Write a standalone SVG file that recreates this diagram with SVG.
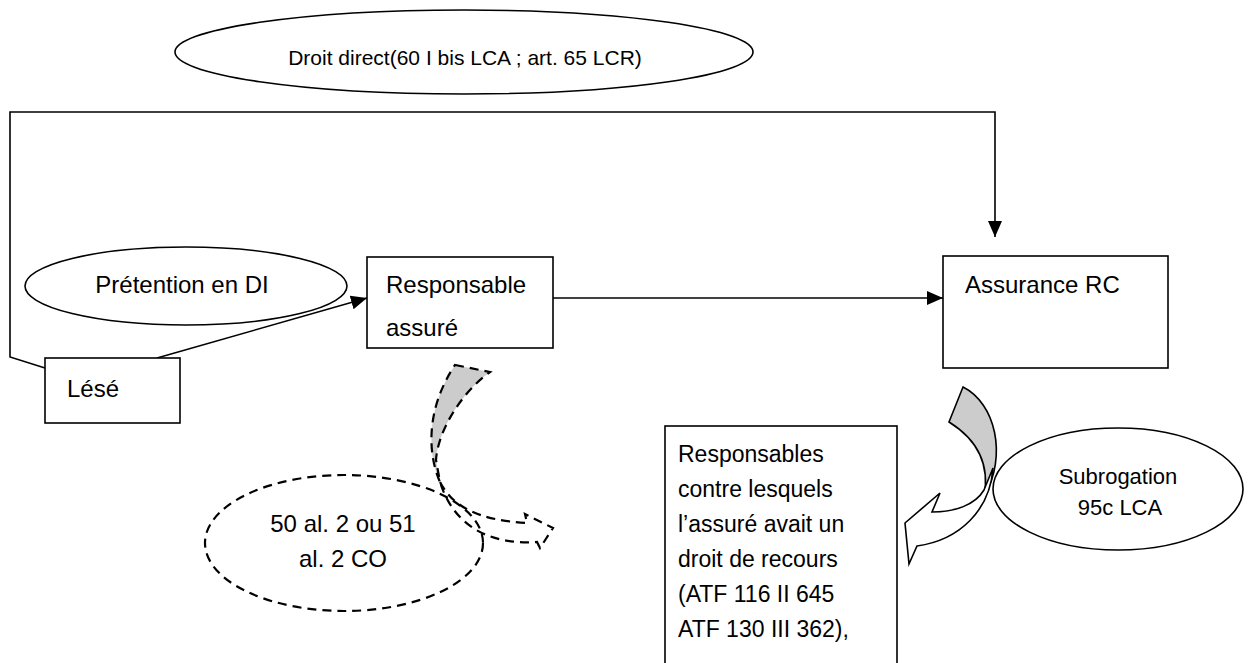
<svg xmlns="http://www.w3.org/2000/svg" width="1248" height="663" viewBox="0 0 1248 663">
  <style>
    .shape { fill: #ffffff; stroke: #000000; stroke-width: 1.6; }
    .line { fill: none; stroke: #000000; stroke-width: 1.6; }
    .dash { stroke-dasharray: 9 6; stroke-width: 2.2; }
    .back { fill: #cccccc; }
    text { font-family: "Liberation Sans", Arial, sans-serif; font-size: 24px; fill: #000000; }
    .mid { text-anchor: middle; }
    .small { font-size: 22px; }
    .body { font-size: 23px; }
  </style>
  <defs>
    <marker id="arrow" markerUnits="userSpaceOnUse" markerWidth="16" markerHeight="16" viewBox="0 0 16 16" refX="16" refY="8" orient="auto">
      <path d="M0 1 L16 8 L0 15 Z" fill="#000000"/>
    </marker>
  </defs>

  <!-- connectors -->
  <g id="connectors">
    <polyline class="line" points="45,368 10,357 10,112 995,112 995,237" marker-end="url(#arrow)"/>
    <line class="line" x1="157" y1="358" x2="367" y2="298" marker-end="url(#arrow)"/>
    <line class="line" x1="553" y1="298" x2="943" y2="298" marker-end="url(#arrow)"/>
  </g>

  <g id="droit-direct">
    <ellipse class="shape" cx="464" cy="52" rx="289" ry="42"/>
    <text x="465" y="65" class="mid" style="font-size:21px">Droit direct(60 I bis LCA ; art. 65 LCR)</text>
  </g>

  <g id="pretention">
    <ellipse class="shape" cx="186" cy="286" rx="161" ry="39"/>
    <text x="182" y="293" class="mid">Prétention en DI</text>
  </g>

  <g id="lese">
    <rect class="shape" x="45" y="358" width="135" height="65"/>
    <text x="67" y="397">Lésé</text>
  </g>

  <g id="responsable">
    <rect class="shape" x="367" y="257" width="186" height="91"/>
    <text x="386" y="293">Responsable</text>
    <text x="386" y="336">assuré</text>
  </g>

  <g id="assurance">
    <rect class="shape" x="943" y="256" width="225" height="112"/>
    <text x="965" y="293">Assurance RC</text>
  </g>

  <!-- dashed curved arrow under the insured -->
  <g id="recours-arrow">
    <path class="shape dash back" d="M455 365 L490 372 C462 392 438 430 436 460 L440 482 C428 455 425 410 455 365 Z"/>
    <path class="shape dash" d="M440 482 C452 505 475 520 527 523 L525 514 L553 528 L540 548 L537 542 C495 545 455 530 440 482 Z"/>
  </g>

  <g id="art-co">
    <ellipse class="line dash" cx="344" cy="543" rx="139" ry="68"/>
    <text x="343" y="532" class="mid">50 al. 2 ou 51</text>
    <text x="343" y="567" class="mid">al. 2 CO</text>
  </g>

  <!-- solid curved arrow under the insurer -->
  <g id="subrogation-arrow">
    <path class="shape back" d="M949 422 L963 387 C995 403 1008 455 984 497 C990 465 978 440 949 422 Z"/>
    <path class="shape" d="M993 468 C990 510 960 540 917 546 L909 564 L905 523 L940 493 L932 512 C955 512 975 505 984 490 Z"/>
  </g>

  <g id="subrogation">
    <ellipse class="shape" cx="1118" cy="489" rx="125" ry="61"/>
    <text x="1118" y="484" class="mid small">Subrogation</text>
    <text x="1120" y="515" class="mid small">95c LCA</text>
  </g>

  <g id="responsables">
    <rect class="shape" x="665" y="426" width="232" height="250"/>
    <text x="678" y="462" class="body">Responsables</text>
    <text x="678" y="497" class="body">contre lesquels</text>
    <text x="678" y="532" class="body">l’assuré avait un</text>
    <text x="678" y="567" class="body">droit de recours</text>
    <text x="678" y="602" class="body">(ATF 116 II 645</text>
    <text x="678" y="637" class="body">ATF 130 III 362),</text>
  </g>
</svg>
